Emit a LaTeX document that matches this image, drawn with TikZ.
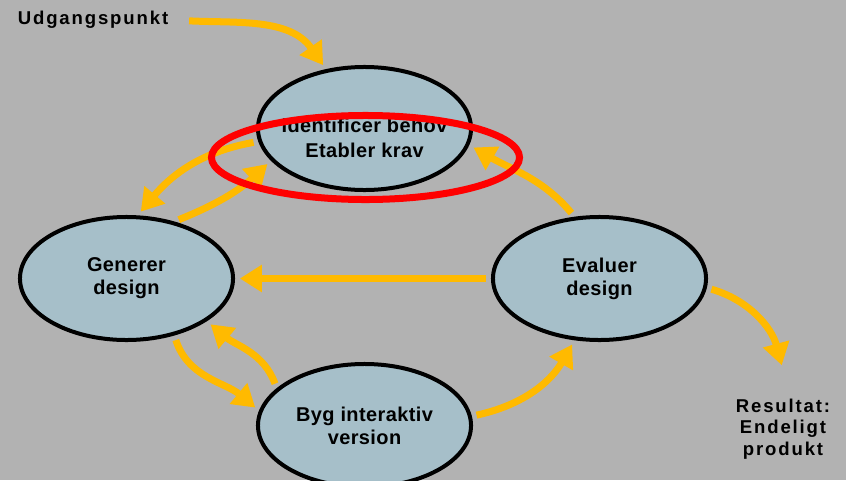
\documentclass[tikz,border=0pt]{standalone}
\usepackage{fontspec}
\setmainfont{Liberation Sans}
\newfontfamily\stagefont{Liberation Sans}[LetterSpace=2]
\newfontfamily\notefont{Liberation Sans}[LetterSpace=10]
\usetikzlibrary{arrows.meta,shapes.geometric}

\definecolor{backdrop}{RGB}{178,178,178}
\definecolor{stagefill}{RGB}{166,191,201}
\definecolor{flowyellow}{RGB}{255,186,0}

\begin{document}
\begin{tikzpicture}[
      x=0.025cm, y=-0.025cm,
      stagetext/.style={align=center,
      font=\stagefont\bfseries\fontsize{14.2}{16.5}\selectfont},
      stage/.style={ellipse, draw, line width=0.1cm, fill=stagefill,
      minimum width=5.325cm, minimum height=3.075cm, inner sep=0pt, stagetext},
      note/.style={align=center,
      font=\notefont\bfseries\fontsize{13.2}{15.3}\selectfont},
      flow/.style={-{Triangle[length=0.55cm, width=0.65cm]}, line width=0.175cm,
      draw=flowyellow, shorten <=0.12cm, shorten >=0.12cm},
      focus/.style={ellipse, draw=red, line width=0.175cm,
      minimum width=7.7cm, minimum height=2.1cm}
    ]
    \path[use as bounding box, fill=backdrop] (0,0) rectangle (846,480);
    \clip (0,0) rectangle (846,480);

    % the four stages of the cycle
    \node[stage] (krav) at (364.5,128.5) {};
    \node[stagetext, font=\stagefont\bfseries\fontsize{14.2}{18}\selectfont]
      (kravtext) at (364.5,138) {Identificer behov\\Etabler krav};
    \node[stage] (generer) at (126.5,278.5) {Generer\\design};
    \node[stage] (evaluer) at (599.5,278.5) {Evaluer\\design};
    \node[stage] (byg) at (364.5,425.5) {Byg interaktiv\\version};

    \node[note] (udgang) at (93,20) {Udgangspunkt};
    \node[note] (resultat) at (783,429) {Resultat:\\Endeligt\\produkt};

    % flows between the stages
    \draw[flow, shorten <=0.4cm] (udgang.east) to[out=-3, in=125] (krav.123);
    \draw[flow] (krav.187) to[out=190, in=50] (generer.80);
    \draw[flow] (generer.50) to[out=22, in=223] (krav.199);
    \draw[flow] (evaluer.112) to[out=130, in=-30] (krav.351);
    \draw[flow] (evaluer.west) -- (generer.east);
    \draw[flow] (generer.310) to[out=-72, in=140] (byg.172);
    \draw[flow] (byg.157) to[out=110, in=-40] (generer.332);
    \draw[flow] (byg.5) to[out=12, in=240] (evaluer.248);
    \draw[flow] (evaluer.355) to[out=-16, in=105] ([yshift=0.6cm]resultat.north);

    % highlight round the first stage
    \node[focus] (fokus) at (365.5,157.5) {};
  \end{tikzpicture}
\end{document}
